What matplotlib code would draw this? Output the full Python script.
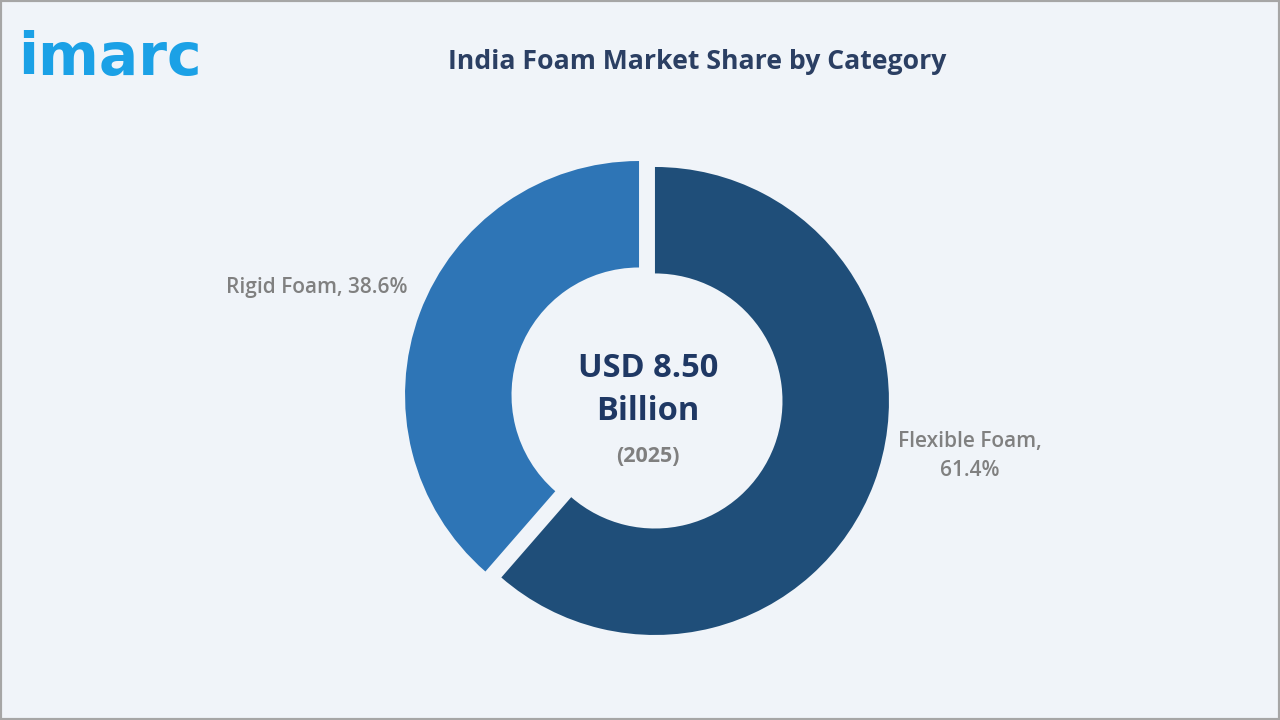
import matplotlib
matplotlib.use("Agg")
import matplotlib.pyplot as plt
from matplotlib.patches import Rectangle

categories = ["Flexible Foam", "Rigid Foam"]
shares = [61.4, 38.6]
colors = ["#1F4E79", "#2E75B6"]
title = "India Foam Market Share by Category"
center_value = "USD 8.50\nBillion"
center_year = "(2025)"

BG = "#F0F4F9"
fig = plt.figure(figsize=(12.8, 7.2), dpi=100, facecolor=BG)
ax = fig.add_axes([0, 0, 1, 1])
ax.set_facecolor(BG)

cx, cy, R = 647, 720 - 398, 234
gap = 8.5
ax.pie(shares, colors=colors, startangle=90, counterclock=False,
       center=(cx, cy), radius=R, explode=[gap, gap],
       wedgeprops=dict(width=R * 0.455, edgecolor="none"), frame=True)
ax.set_xlim(0, 1280)
ax.set_ylim(0, 720)
ax.set_aspect("auto")
ax.axis("off")

font = ["Open Sans", "DejaVu Sans"]
ax.text(697, 720 - 62, title, ha="center", va="center", fontsize=19.2,
        fontweight="bold", color="#2B3F63", family=font)
ax.text(18, 720 - 75, "imarc", ha="left", va="baseline", fontsize=42,
        fontweight="bold", color="#1BA1E6", family=["DejaVu Sans"])

ax.text(cx + 1, 720 - 390, center_value, ha="center", va="center", fontsize=23.5,
        fontweight="bold", color="#1F3864", family=font, linespacing=1.4)
ax.text(cx + 1, 720 - 456, center_year, ha="center", va="center", fontsize=15.5,
        fontweight="bold", color="#7F7F7F", family=font)

lab_font = dict(fontsize=15, color="#808080", family=font, fontweight="semibold")
ax.text(408, 720 - 287, f"{categories[1]}, {shares[1]}%", ha="right", va="center", **lab_font)
ax.text(970, 720 - 456, f"{categories[0]},\n{shares[0]}%", ha="center", va="center",
        linespacing=1.45, **lab_font)

fig.patches.append(Rectangle((0, 0), 1, 1, transform=fig.transFigure, fill=False,
                             edgecolor="#A6A6A6", linewidth=3))
fig.savefig("out.png", dpi=100, facecolor=BG)
